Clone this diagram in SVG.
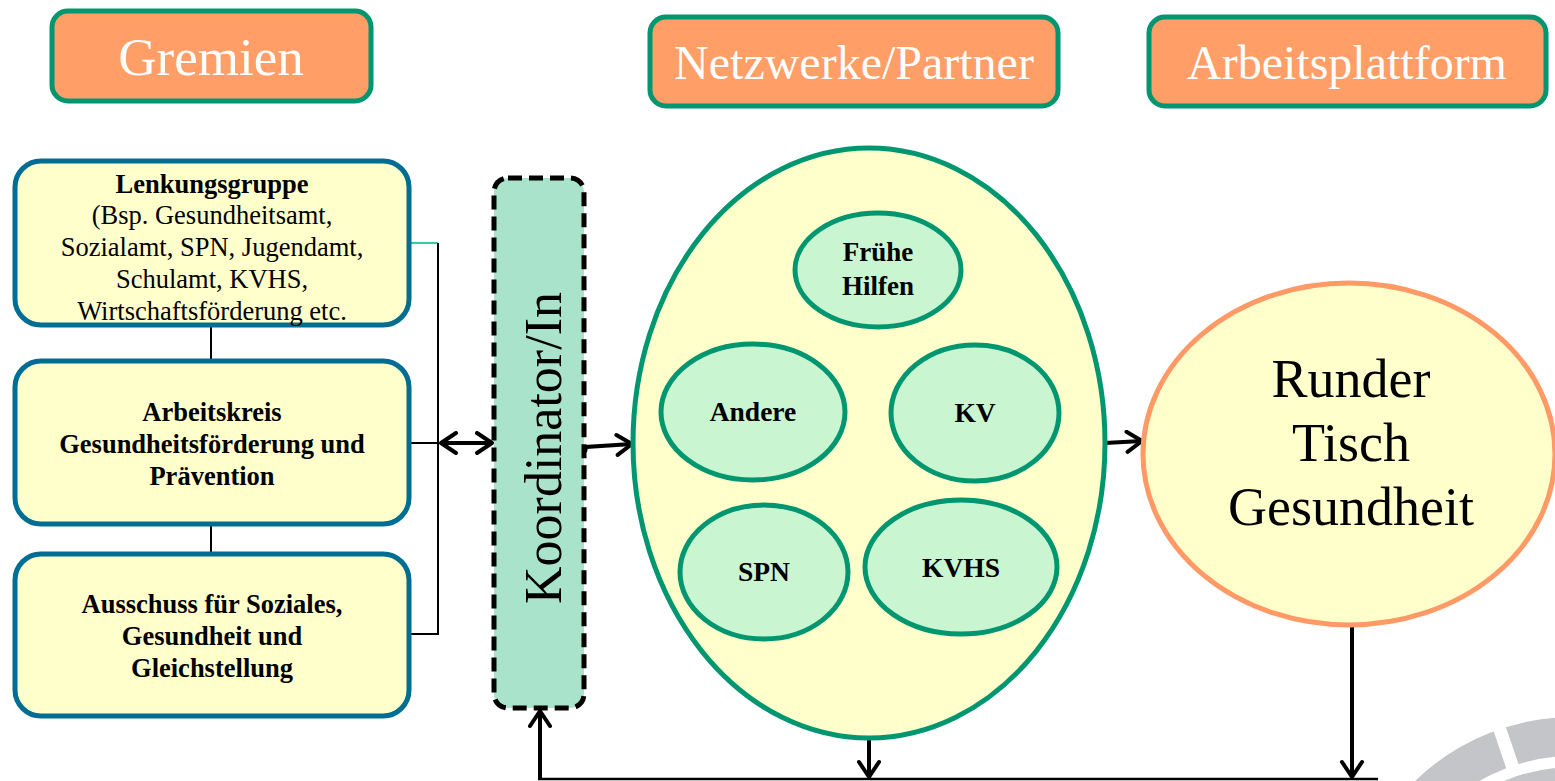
<svg xmlns="http://www.w3.org/2000/svg" width="1555" height="781" viewBox="0 0 1555 781">
<style>
.hdr{fill:#FF9E66;stroke:#009670;stroke-width:5}
.hdrt{font-family:"Liberation Serif",serif;fill:#fff;text-anchor:middle}
.gbox{fill:#FFFFCC;stroke:#006E93;stroke-width:5}
.t{font-family:"Liberation Serif",serif;fill:#000;text-anchor:middle}
.b{font-weight:bold}
.inner{fill:#C9F5D0;stroke:#009670;stroke-width:5}
.ln{stroke:#000;fill:none}
</style>
<defs>
<marker id="ah" viewBox="0 0 24 24" refX="21" refY="12" markerWidth="24" markerHeight="24" markerUnits="userSpaceOnUse" orient="auto-start-reverse">
<path d="M6,2 L21,12 L6,22" fill="none" stroke="#000" stroke-width="4" stroke-linecap="round" stroke-linejoin="round"/>
</marker>
</defs>

<g id="watermark">
<circle cx="1573" cy="944" r="207.5" fill="none" stroke="#C4C5C8" stroke-width="39"/>
<circle cx="1573" cy="944" r="160" fill="none" stroke="#C4C5C8" stroke-width="34"/>
<line x1="1515" y1="774" x2="1497" y2="721" stroke="#fff" stroke-width="13"/>
</g>

<g id="header-gremien">
<rect class="hdr" x="52" y="11" width="319" height="90" rx="16"/>
<text class="hdrt" x="211" y="75" font-size="53">Gremien</text>
</g>
<g id="header-netzwerke">
<rect class="hdr" x="650" y="17" width="408" height="89" rx="16"/>
<text class="hdrt" x="854" y="79" font-size="48">Netzwerke/Partner</text>
</g>
<g id="header-arbeitsplattform">
<rect class="hdr" x="1149" y="17" width="397" height="89" rx="16"/>
<text class="hdrt" x="1347" y="79" font-size="48">Arbeitsplattform</text>
</g>

<g id="connectors">
<line class="ln" x1="211" y1="326" x2="211" y2="360" stroke-width="2"/>
<line class="ln" x1="211" y1="525" x2="211" y2="553" stroke-width="2"/>
<line x1="410" y1="243" x2="438" y2="243" stroke="#33CCA0" stroke-width="2"/>
<polyline class="ln" points="438,243 438,634 410,634" stroke-width="2"/>
<line class="ln" x1="410" y1="443" x2="438" y2="443" stroke-width="2"/>
<line class="ln" x1="441" y1="443" x2="492" y2="443" stroke-width="4" marker-start="url(#ah)" marker-end="url(#ah)"/>
<polyline class="ln" points="585,452 586,447 632,444" stroke-width="4" marker-end="url(#ah)"/>
<line class="ln" x1="1105" y1="443" x2="1142" y2="441" stroke-width="4" marker-end="url(#ah)"/>
<line class="ln" x1="869" y1="739" x2="869" y2="777" stroke-width="4" marker-end="url(#ah)"/>
<line class="ln" x1="1352" y1="625" x2="1352" y2="777" stroke-width="4" marker-end="url(#ah)"/>
<line class="ln" x1="538" y1="779" x2="1378" y2="779" stroke-width="2.5"/>
<line class="ln" x1="540" y1="779" x2="540" y2="711" stroke-width="4" marker-end="url(#ah)"/>
</g>

<g id="lenkungsgruppe">
<rect class="gbox" x="15" y="161" width="394" height="164" rx="26"/>
<text class="t b" x="212" y="193" font-size="26.5">Lenkungsgruppe</text>
<text class="t" x="212" y="224" font-size="26.5">(Bsp. Gesundheitsamt,</text>
<text class="t" x="212" y="256" font-size="26.5">Sozialamt, SPN, Jugendamt,</text>
<text class="t" x="212" y="288" font-size="26.5">Schulamt, KVHS,</text>
<text class="t" x="212" y="320" font-size="26.5">Wirtschaftsförderung etc.</text>
</g>
<g id="arbeitskreis">
<rect class="gbox" x="15" y="361" width="394" height="163" rx="26"/>
<text class="t b" x="212" y="421" font-size="26.5">Arbeitskreis</text>
<text class="t b" x="212" y="453" font-size="26.5">Gesundheitsförderung und</text>
<text class="t b" x="212" y="485" font-size="26.5">Prävention</text>
</g>
<g id="ausschuss">
<rect class="gbox" x="15" y="554" width="394" height="162" rx="26"/>
<text class="t b" x="212" y="613" font-size="26.5">Ausschuss für Soziales,</text>
<text class="t b" x="212" y="645" font-size="26.5">Gesundheit und</text>
<text class="t b" x="212" y="677" font-size="26.5">Gleichstellung</text>
</g>

<g id="koordinator">
<rect x="494" y="178" width="90" height="530" rx="14" fill="#AAE3CC" stroke="#000" stroke-width="5" stroke-dasharray="14,7"/>
<text class="t" transform="translate(561,448) rotate(-90)" x="0" y="0" font-size="52">Koordinator/In</text>
</g>

<g id="netzwerke">
<ellipse cx="869" cy="443" rx="236" ry="295" fill="#FFFFCC" stroke="#009670" stroke-width="5"/>
</g>
<g id="fruehe-hilfen">
<ellipse class="inner" cx="878" cy="270" rx="83" ry="57"/>
<text class="t b" x="878" y="261" font-size="27">Frühe</text>
<text class="t b" x="878" y="295" font-size="27">Hilfen</text>
</g>
<g id="andere">
<ellipse class="inner" cx="753" cy="412" rx="92" ry="68"/>
<text class="t b" x="753" y="421" font-size="27.5">Andere</text>
</g>
<g id="kv">
<ellipse class="inner" cx="975" cy="413" rx="84" ry="68"/>
<text class="t b" x="975" y="422" font-size="27.5">KV</text>
</g>
<g id="spn">
<ellipse class="inner" cx="764" cy="572" rx="84" ry="67"/>
<text class="t b" x="764" y="581" font-size="27.5">SPN</text>
</g>
<g id="kvhs">
<ellipse class="inner" cx="961" cy="567" rx="96" ry="67"/>
<text class="t b" x="961" y="577" font-size="27.5">KVHS</text>
</g>

<g id="runder-tisch">
<ellipse cx="1349" cy="454" rx="206" ry="171" fill="#FFFFCC" stroke="#FF9966" stroke-width="5"/>
<text class="t" x="1351" y="397" font-size="54">Runder</text>
<text class="t" x="1351" y="461" font-size="54">Tisch</text>
<text class="t" x="1351" y="525" font-size="54">Gesundheit</text>
</g>
</svg>
